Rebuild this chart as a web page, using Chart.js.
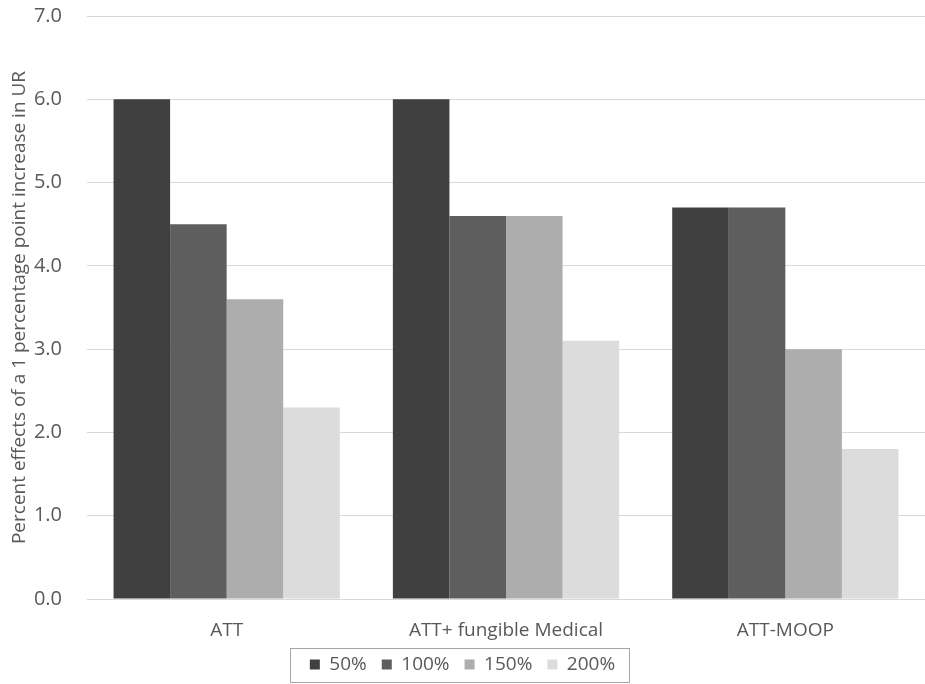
<!DOCTYPE html>
<html>
<head>
<meta charset="utf-8">
<script src="https://cdn.jsdelivr.net/npm/chart.js@4.4.0/dist/chart.umd.min.js"></script>
<style>
  html, body { margin: 0; padding: 0; background: #fff; }
  #wrap { width: 925px; height: 684px; position: relative; }
</style>
</head>
<body>
<div id="wrap"><canvas id="chartEfectos"></canvas></div>
<script>
// Datos del gráfico
const categorias = ['ATT', 'ATT+ fungible Medical', 'ATT-MOOP'];
const series = ['50%', '100%', '150%', '200%'];
const valores50 = [6.0, 6.0, 4.7];
const valores100 = [4.5, 4.6, 4.7];
const valores150 = [3.6, 4.6, 3.0];
const valores200 = [2.3, 3.1, 1.8];
const colores = ['#404040', '#5e5e5e', '#adadad', '#dcdcdc'];
const tituloY = 'Percent effects of a 1 percentage point increase in UR';

const textoColor = '#595959';
Chart.defaults.font.family = "'Open Sans', 'Noto Sans', sans-serif";
Chart.defaults.color = textoColor;

// Marco alrededor de la leyenda
const bordeLeyenda = {
    id: 'bordeLeyenda',
    afterDraw(chart) {
        const cajas = chart.legend.legendHitBoxes;
        if (!cajas || !cajas.length) return;
        const izq = Math.min(...cajas.map(c => c.left));
        const der = Math.max(...cajas.map(c => c.left + c.width));
        const medio = cajas[0].top + cajas[0].height / 2;
        const ctx = chart.ctx;
        ctx.save();
        ctx.strokeStyle = '#a6a6a6';
        ctx.lineWidth = 1;
        ctx.strokeRect(Math.round(izq - 20) + 0.5, Math.round(medio - 17) + 0.5,
            Math.round(der - izq + 34), 34);
        ctx.restore();
    }
};

const datos = [valores50, valores100, valores150, valores200];

new Chart(document.getElementById('chartEfectos').getContext('2d'), {
    type: 'bar',
    data: {
        labels: categorias,
        datasets: series.map((s, i) => ({
            label: s,
            data: datos[i],
            backgroundColor: colores[i],
            borderWidth: 0,
            categoryPercentage: 0.81,
            barPercentage: 1.0
        }))
    },
    options: {
        responsive: true,
        maintainAspectRatio: false,
        animation: false,
        layout: { padding: { top: 4, right: 0, left: 0, bottom: 0 } },
        plugins: {
            legend: {
                position: 'bottom',
                labels: {
                    boxWidth: 10,
                    boxHeight: 10,
                    padding: 15,
                    font: { size: 19 },
                    color: textoColor
                }
            },
            tooltip: { enabled: false }
        },
        scales: {
            x: {
                grid: { display: false, drawTicks: false },
                border: { color: '#d9d9d9' },
                ticks: { font: { size: 19, lineHeight: 1 }, color: textoColor, padding: 22 },
                afterFit: scale => { scale.height = 41; }
            },
            y: {
                min: 0,
                max: 7,
                ticks: {
                    stepSize: 1,
                    padding: 25,
                    font: { size: 20 },
                    color: textoColor,
                    callback: v => v.toFixed(1)
                },
                grid: { color: '#d9d9d9', drawTicks: false },
                border: { display: false },
                title: {
                    display: true,
                    text: tituloY,
                    font: { size: 19 },
                    color: textoColor,
                    padding: { top: 8, bottom: 0 }
                },
                afterFit: scale => {
                    scale.width = 87;
                    scale.paddingTop = 16;
                    scale.paddingBottom = 14;
                }
            }
        }
    },
    plugins: [bordeLeyenda]
});
</script>
</body>
</html>
